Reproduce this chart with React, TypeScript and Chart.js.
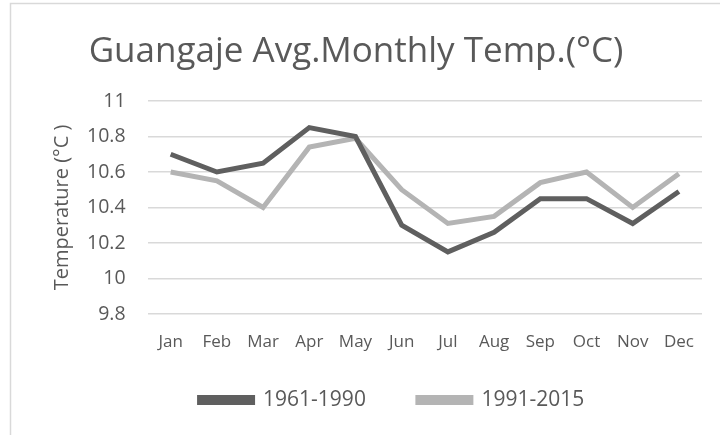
import React, { useEffect, useRef } from "react";
import { Chart, registerables } from "chart.js";

Chart.register(...registerables);

const months = ["Jan", "Feb", "Mar", "Apr", "May", "Jun", "Jul", "Aug", "Sep", "Oct", "Nov", "Dec"];
const series1961 = [10.7, 10.6, 10.65, 10.85, 10.8, 10.3, 10.15, 10.26, 10.45, 10.45, 10.31, 10.49];
const series1991 = [10.6, 10.55, 10.4, 10.74, 10.79, 10.5, 10.31, 10.35, 10.54, 10.6, 10.4, 10.59];
const titleText = "Guangaje Avg.Monthly Temp.(°C)";
const yTitle = "Temperature (°C )";
const yMin = 9.8;
const yMax = 11;
const yStep = 0.2;

const FONT = "'Open Sans', sans-serif";
const TEXT = "#595959";

const framePlugin = {
  id: "frame",
  beforeDraw(chart: any) {
    const ctx = chart.ctx;
    ctx.save();
    ctx.fillStyle = "#ffffff";
    ctx.fillRect(0, 0, chart.width, chart.height);
    ctx.strokeStyle = "#d9d9d9";
    ctx.lineWidth = 1.5;
    ctx.beginPath();
    ctx.moveTo(10.5, chart.height);
    ctx.lineTo(10.5, 3.5);
    ctx.lineTo(chart.width, 3.5);
    ctx.stroke();
    ctx.restore();
  },
};

export default function App() {
  const ref = useRef<HTMLCanvasElement>(null);
  useEffect(() => {
    if (!ref.current) return;
    const chart = new Chart(ref.current, {
      type: "line",
      data: {
        labels: months,
        datasets: [
          {
            label: "1961-1990",
            data: series1961,
            borderColor: "#5f5f5f",
            backgroundColor: "#5f5f5f",
            borderWidth: 5,
            pointRadius: 0,
            tension: 0,
          },
          {
            label: "1991-2015",
            data: series1991,
            borderColor: "#b4b4b4",
            backgroundColor: "#b4b4b4",
            borderWidth: 5,
            pointRadius: 0,
            tension: 0,
          },
        ],
      },
      options: {
        animation: false,
        responsive: false,
        maintainAspectRatio: false,
        layout: { padding: { left: 10, right: 18, top: 10, bottom: 14.5 } },
        plugins: {
          title: {
            display: true,
            text: titleText,
            color: TEXT,
            font: { family: FONT, size: 35, weight: "normal" },
            padding: { top: 21, bottom: 28 },
          },
          legend: {
            position: "bottom",
            fullSize: false,
            align: "start",
            labels: {
              color: TEXT,
              font: { family: FONT, size: 21 },
              boxWidth: 53,
              boxHeight: 5,
              padding: 52,
            },
          },
          tooltip: { enabled: false },
        },
        scales: {
          x: {
            offset: true,
            grid: { display: false, drawTicks: false },
            border: { display: false },
            ticks: {
              color: TEXT,
              font: { family: FONT, size: 17 },
              mirror: true,
              padding: -38.2,
              maxRotation: 0,
              autoSkip: false,
            },
            afterFit: (scale: any) => {
              scale.height = 23.5;
            },
          },
          y: {
            min: yMin,
            max: yMax,
            grid: { color: "#d9d9d9", lineWidth: 1.5, drawTicks: false },
            border: { display: false },
            ticks: {
              stepSize: yStep,
              color: TEXT,
              font: { family: FONT, size: 19.5 },
              padding: 22,
              callback: (v: any) => String(Number(Number(v).toFixed(1))),
            },
            title: {
              display: true,
              text: yTitle,
              color: TEXT,
              font: { family: FONT, size: 20 },
              padding: { top: 40, bottom: -9 },
            },
          },
        },
      },
      plugins: [framePlugin],
    });
    return () => chart.destroy();
  }, []);
  return (
    <div style={{ position: "absolute", left: 0, top: 0, width: 720, height: 435 }}>
      <canvas ref={ref} width={720} height={435} />
    </div>
  );
}
